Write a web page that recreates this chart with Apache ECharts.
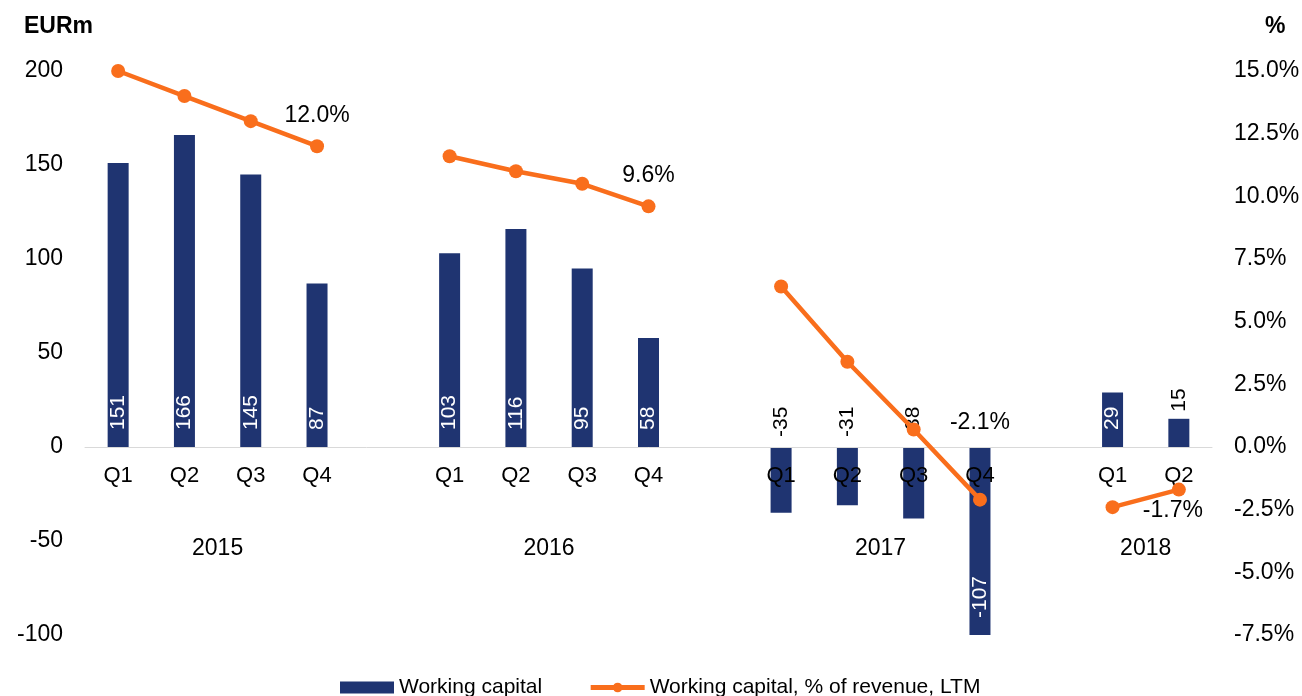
<!DOCTYPE html>
<html>
<head>
<meta charset="utf-8">
<script src="https://cdn.jsdelivr.net/npm/echarts@6/dist/echarts.min.js"></script>
<style>
  html, body { margin: 0; padding: 0; background: #fff; }
  #main { width: 1302px; height: 696px; }
</style>
</head>
<body>
<div id="main"></div>
<script>
// quarters, with an empty slot between the years
var categories = ['Q1', 'Q2', 'Q3', 'Q4', '', 'Q1', 'Q2', 'Q3', 'Q4', '', 'Q1', 'Q2', 'Q3', 'Q4', '', 'Q1', 'Q2'];
var years = ['2015', '2016', '2017', '2018'];
var yearStart = [0, 5, 10, 15];
var yearSize = [4, 4, 4, 2];

// EURm
var workingCapital = [151, 166, 145, 87, null, 103, 116, 95, 58, null, -35, -31, -38, -107, null, 29, 15];
// % of revenue, LTM
var wcPercent = [15.0, 14.0, 13.0, 12.0, null, 11.6, 11.0, 10.5, 9.6, null, 6.4, 3.4, 0.7, -2.1, null, -2.4, -1.7];

var leftTicks = { min: -100, max: 200, interval: 50 };
var rightTicks = { min: -7.5, max: 15, interval: 2.5 };

var font = 'Liberation Sans, Arial, sans-serif';
var navy = '#1F3471';
var orange = '#F96E1C';

var gridTop = 71, gridBottom = 61, H = 696;
// move the quarter axis up from the grid bottom to the zero line
var zeroShift = -(H - gridTop - gridBottom) * (0 - leftTicks.min) / (leftTicks.max - leftTicks.min);

var chart = echarts.init(document.getElementById('main'));

// bars: white label at the base, black label above for the short negative / small ones
var outsideBars = [10, 11, 12, 16];
var barData = workingCapital.map(function (v, i) {
    if (v == null) return null;
    if (outsideBars.indexOf(i) >= 0) {
        return {
            value: v,
            label: { position: 'top', color: '#000', distance: i === 16 ? 7 : 10 }
        };
    }
    return v;
});

// line: only last quarter of each year is labelled
var lineLabels = {
    3: { position: 'top', distance: 12 },
    8: { position: 'top', distance: 12 },
    13: { position: 'top', distance: 58 },
    16: { position: 'bottom', distance: 3, offset: [-6, 0] }
};
var lineData = wcPercent.map(function (v, i) {
    if (v == null) return null;
    if (lineLabels[i]) {
        return { value: v, label: Object.assign({ show: true }, lineLabels[i]) };
    }
    return v;
});

var yearAt = {};
years.forEach(function (y, k) { yearAt[yearStart[k] + yearSize[k] / 2] = y; });

var option = {
    animation: false,
    textStyle: { fontFamily: font },
    title: [
        { text: 'EURm', left: 24, top: 15, padding: 0,
          textStyle: { fontFamily: font, fontSize: 23, fontWeight: 'bold', color: '#000' } },
        { text: '%', left: 1265, top: 15, padding: 0,
          textStyle: { fontFamily: font, fontSize: 23, fontWeight: 'bold', color: '#000' } }
    ],
    grid: { left: 85, right: 90, top: gridTop, bottom: gridBottom, outerBoundsMode: 'none', containLabel: false },
    legend: {
        left: 340,
        top: 677,
        padding: 0,
        itemWidth: 54,
        itemHeight: 12,
        itemGap: 46,
        textStyle: { fontFamily: font, fontSize: 21, color: '#000' },
        data: [
            { name: 'Working capital', icon: 'rect' },
            { name: 'Working capital, % of revenue, LTM', lineStyle: { width: 5 } }
        ]
    },
    xAxis: [
        {
            type: 'category',
            data: categories,
            position: 'bottom',
            offset: zeroShift,
            z: 3,
            axisLine: { onZero: false, lineStyle: { color: '#d9d9d9', width: 1 } },
            axisTick: { show: false },
            axisLabel: { interval: 0, margin: 18, fontSize: 22, color: '#000', fontFamily: font }
        },
        {
            type: 'value',
            min: 0,
            max: categories.length,
            interval: 1,
            position: 'bottom',
            offset: zeroShift,
            axisLine: { show: false, onZero: false },
            axisTick: { show: false },
            splitLine: { show: false },
            axisLabel: {
                margin: 90, fontSize: 23, color: '#000', fontFamily: font,
                formatter: function (v) { return yearAt[v] || ''; }
            }
        }
    ],
    yAxis: [
        {
            type: 'value',
            min: leftTicks.min, max: leftTicks.max, interval: leftTicks.interval,
            axisLine: { show: false, onZero: false },
            axisTick: { show: false },
            splitLine: { show: false },
            axisLabel: { margin: 22, fontSize: 23, color: '#000', fontFamily: font }
        },
        {
            type: 'value',
            position: 'right',
            min: rightTicks.min, max: rightTicks.max, interval: rightTicks.interval,
            axisLine: { show: false, onZero: false },
            axisTick: { show: false },
            splitLine: { show: false },
            axisLabel: {
                margin: 22, fontSize: 23, color: '#000', fontFamily: font,
                formatter: function (v) { return v.toFixed(1) + '%'; }
            }
        }
    ],
    series: [
        {
            name: 'Working capital',
            type: 'bar',
            xAxisIndex: 0,
            yAxisIndex: 0,
            barWidth: 21,
            z: 2,
            itemStyle: { color: navy },
            label: {
                show: true,
                position: 'insideBottom',
                distance: 17,
                rotate: 90,
                align: 'left',
                verticalAlign: 'middle',
                color: '#fff',
                fontSize: 21,
                fontFamily: font
            },
            data: barData
        },
        {
            name: 'Working capital, % of revenue, LTM',
            type: 'line',
            xAxisIndex: 0,
            yAxisIndex: 1,
            z: 4,
            symbol: 'circle',
            symbolSize: 14,
            lineStyle: { color: orange, width: 4.5 },
            itemStyle: { color: orange },
            label: {
                show: false,
                fontSize: 23,
                color: '#000',
                fontFamily: font,
                formatter: function (p) { return p.value.toFixed(1) + '%'; }
            },
            data: lineData
        }
    ]
};

chart.setOption(option);
</script>
</body>
</html>
